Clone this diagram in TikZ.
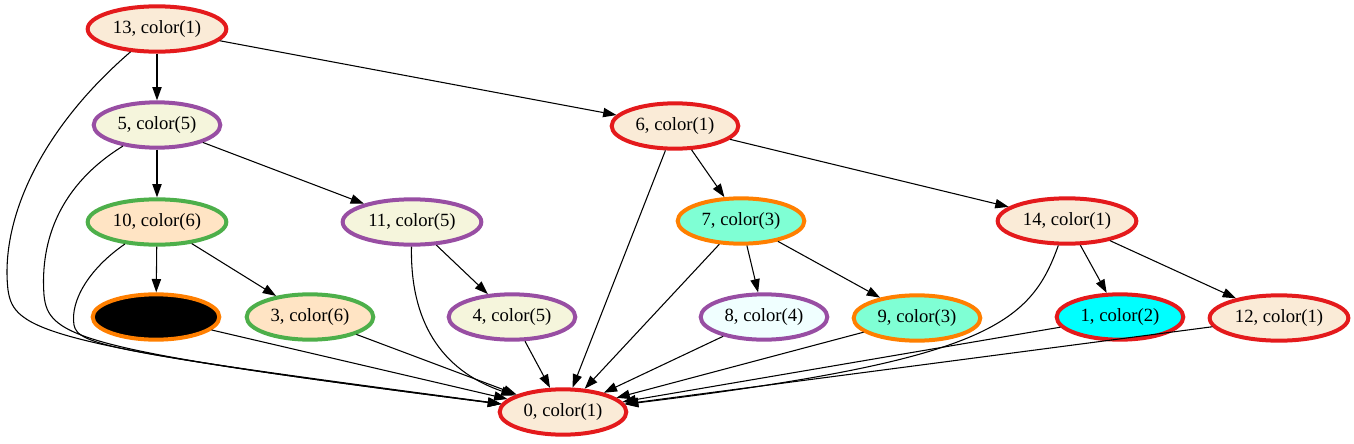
\documentclass[tikz,border=0pt]{standalone}
\usepackage{fontspec}
\setmainfont{Liberation Serif}
\usepackage{tikz}
\usetikzlibrary{shapes.geometric,arrows.meta}

\definecolor{setred}{HTML}{E41A1C}
\definecolor{setpurple}{HTML}{984EA3}
\definecolor{setgreen}{HTML}{4DAF4A}
\definecolor{setorange}{HTML}{FF7F00}
\definecolor{antique}{HTML}{FAEBD7}
\definecolor{beigefill}{HTML}{F5F5DC}
\definecolor{bisquefill}{HTML}{FFE4C4}
\definecolor{aquafill}{HTML}{7FFFD4}
\definecolor{azurefill}{HTML}{F0FFFF}
\definecolor{cyanfill}{HTML}{00FFFF}

\begin{document}
\begin{tikzpicture}[x=0.75pt, y=-0.75pt,
    main/.style = {draw, ellipse, line width=3pt, inner sep=0pt,
      minimum width=95pt, minimum height=34pt,
      font=\fontsize{14}{16}\selectfont},
    wide/.style = {minimum width=104pt},
    redline/.style = {draw=setred},
    purpleline/.style = {draw=setpurple},
    greenline/.style = {draw=setgreen},
    orangeline/.style = {draw=setorange},
    arr/.style = {-{Triangle[length=10pt,width=7pt]}, line width=0.8pt}]
    \useasboundingbox (0,0) rectangle (1354,443);
    % rows of the graph
    \node[main, wide, redline, fill=antique] (n13) at (157,29) {13, color(1)};
    \node[main, purpleline, fill=beigefill] (n5) at (157,125) {5, color(5)};
    \node[main, redline, fill=antique] (n6) at (675,126) {6, color(1)};
    \node[main, wide, greenline, fill=bisquefill] (n10) at (157,222) {10, color(6)};
    \node[main, wide, purpleline, fill=beigefill] (n11) at (412,222) {11, color(5)};
    \node[main, orangeline, fill=aquafill] (n7) at (741,221) {7, color(3)};
    \node[main, wide, redline, fill=antique] (n14) at (1067,221) {14, color(1)};
    \node[main, orangeline, fill=black] (n2) at (156,317) {};
    \node[main, greenline, fill=bisquefill] (n3) at (310,317) {3, color(6)};
    \node[main, purpleline, fill=beigefill] (n4) at (512,317) {4, color(5)};
    \node[main, purpleline, fill=azurefill] (n8) at (764,317) {8, color(4)};
    \node[main, orangeline, fill=aquafill] (n9) at (917,318) {9, color(3)};
    \node[main, redline, fill=cyanfill] (n1) at (1120,317) {1, color(2)};
    \node[main, wide, redline, fill=antique] (n12) at (1279,318) {12, color(1)};
    \node[main, redline, fill=antique] (n0) at (563,412) {0, color(1)};

    \draw[arr] (n13) -- (n5);
    \draw[arr] (n13) -- (n6);
    \draw[arr] (n13) .. controls (40,130) and (0,220) .. (8,290) .. controls (14,330) and (40,345) .. (n0);
    \draw[arr] (n5) -- (n10);
    \draw[arr] (n5) -- (n11);
    \draw[arr] (n5) .. controls (60,185) and (40,240) .. (44,295) .. controls (48,338) and (80,350) .. (n0);
    \draw[arr] (n6) -- (n7);
    \draw[arr] (n6) -- (n14);
    \draw[arr] (n6) -- (n0);
    \draw[arr] (n10) -- (n2);
    \draw[arr] (n10) -- (n3);
    \draw[arr] (n10) .. controls (90,268) and (70,300) .. (74,325) .. controls (78,345) and (110,352) .. (n0);
    \draw[arr] (n11) -- (n4);
    \draw[arr] (n11) .. controls (410,320) and (440,370) .. (n0);
    \draw[arr] (n7) -- (n8);
    \draw[arr] (n7) -- (n9);
    \draw[arr] (n7) -- (n0);
    \draw[arr] (n14) -- (n1);
    \draw[arr] (n14) -- (n12);
    \draw[arr] (n14) .. controls (1030,325) and (985,360) .. (n0);
    \draw[arr] (n2) -- (n0);
    \draw[arr] (n3) -- (n0);
    \draw[arr] (n4) -- (n0);
    \draw[arr] (n8) -- (n0);
    \draw[arr] (n9) -- (n0);
    \draw[arr] (n1) -- (n0);
    \draw[arr] (n12) -- (n0);
\end{tikzpicture}
\end{document}
